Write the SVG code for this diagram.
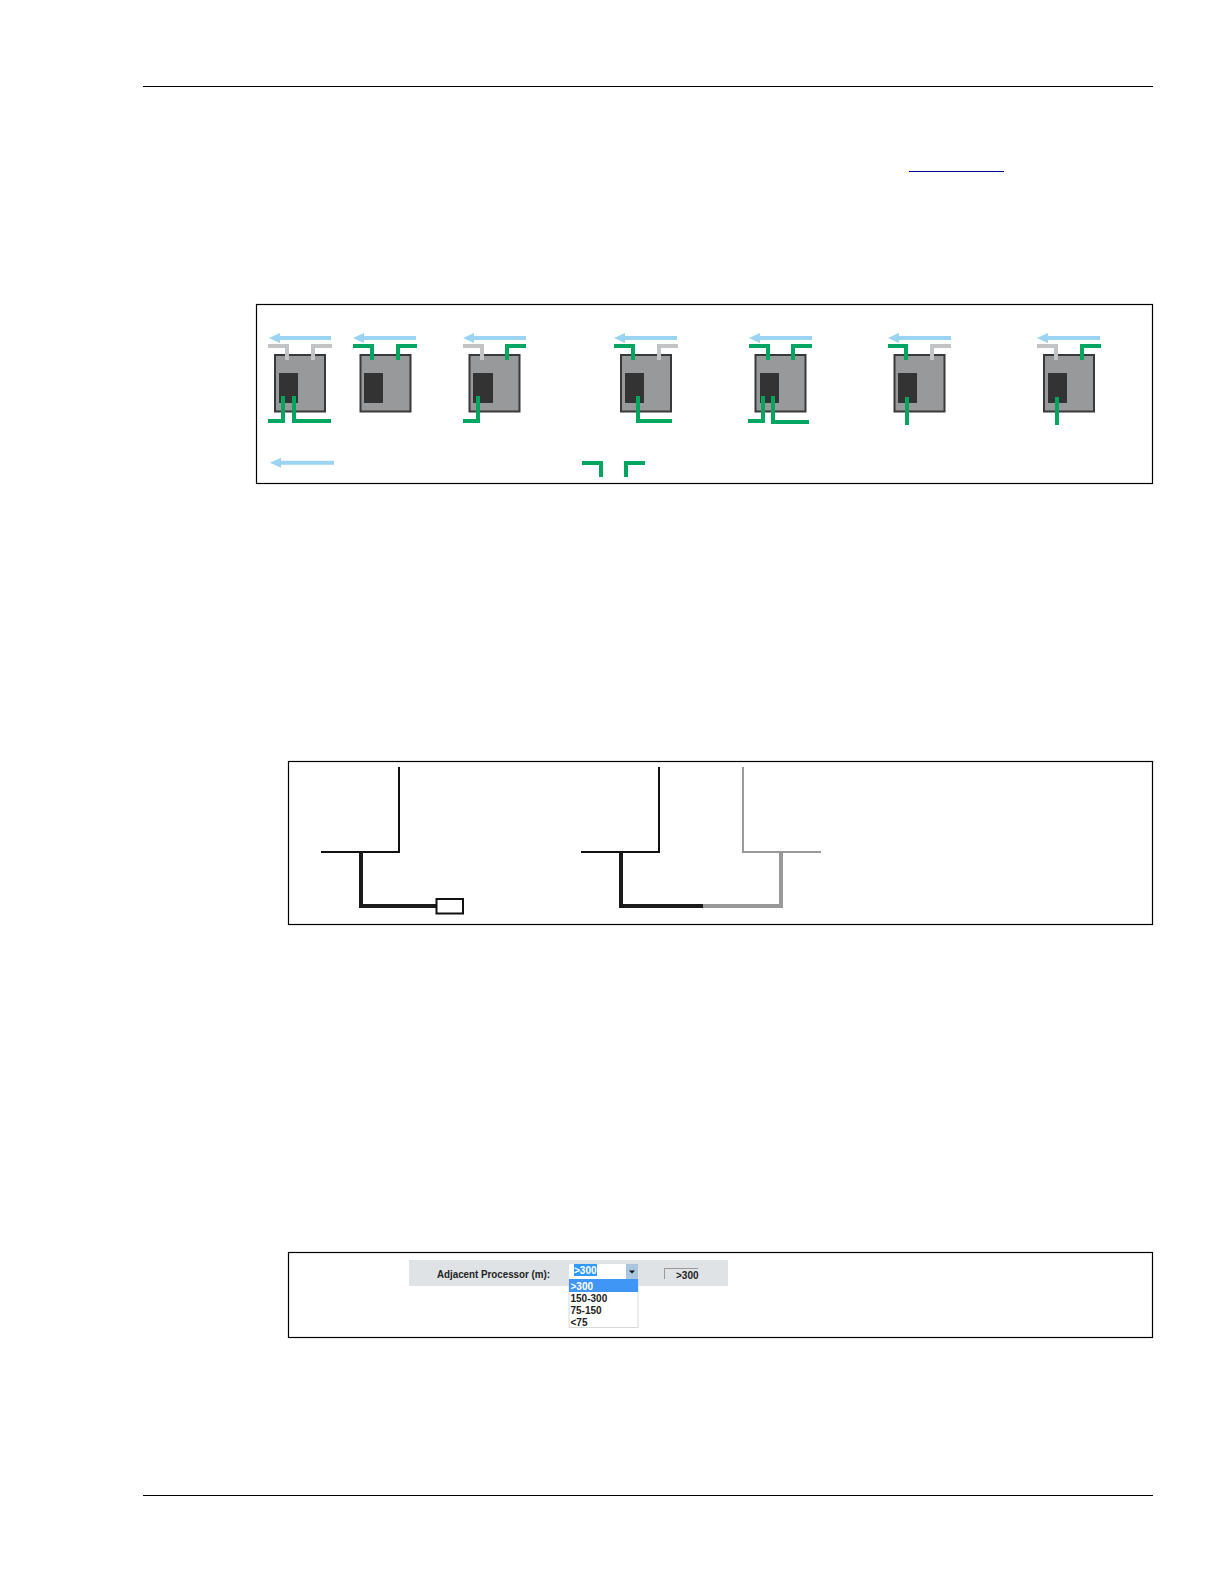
<svg xmlns="http://www.w3.org/2000/svg" width="1224" height="1584" viewBox="0 0 1224 1584">
<defs>
<marker id="ah" markerUnits="userSpaceOnUse" markerWidth="11" markerHeight="10" refX="0" refY="0" viewBox="0 -5 11 10" orient="auto"><path d="M0,-5 L11,0 L0,5z" fill="#9bd3f2"/></marker>
</defs>
<style>
.frame{fill:none;stroke:#000;stroke-width:1.2}
.rule{stroke:#000;stroke-width:1.2;fill:none}
.chip{fill:#97999b;stroke:#38393a;stroke-width:2}
.core{fill:#333334}
.bus{stroke:#9bd3f2;stroke-width:4;fill:none;marker-end:url(#ah)}
.g{fill:none;stroke:#00a560;stroke-width:4}
.y{fill:none;stroke:#c2c3c4;stroke-width:4}
.thin{fill:none;stroke:#111;stroke-width:2}
.thick{fill:none;stroke:#1a1a1a;stroke-width:4}
.thin2{fill:none;stroke:#999;stroke-width:2}
.thick2{fill:none;stroke:#999;stroke-width:4}
.t{font-family:"Liberation Sans",Arial,sans-serif;font-size:10px;font-weight:bold;fill:#222}
</style>
<path class="rule" d="M143,86.500H1153"/>
<path class="rule" d="M143,1495.500H1153"/>
<path d="M909,171.500H1004" fill="none" stroke="#000090" stroke-width="1.2"/>
<rect class="frame" x="256.500" y="304.500" width="896" height="179"/>
<rect class="frame" x="288.500" y="761.500" width="864" height="163"/>
<rect class="frame" x="288.500" y="1252.500" width="864" height="85"/>

<g id="node1"><rect class="chip" x="275" y="355" width="50" height="56.500"/><rect class="core" x="279" y="373" width="19" height="30"/></g>
<g id="node2"><rect class="chip" x="360.500" y="355" width="50" height="56.500"/><rect class="core" x="364" y="373" width="19" height="30"/></g>
<g id="node3"><rect class="chip" x="469.500" y="355" width="50" height="56.500"/><rect class="core" x="473" y="373" width="20" height="30"/></g>
<g id="node4"><rect class="chip" x="621" y="355" width="50" height="56.500"/><rect class="core" x="625" y="373" width="19" height="30"/></g>
<g id="node5"><rect class="chip" x="755.500" y="355" width="50" height="56.500"/><rect class="core" x="760" y="373" width="19" height="30"/></g>
<g id="node6"><rect class="chip" x="894.500" y="355" width="50" height="56.500"/><rect class="core" x="898" y="373" width="19" height="30"/></g>
<g id="node7"><rect class="chip" x="1044" y="355" width="50" height="56.500"/><rect class="core" x="1048" y="373" width="19" height="30"/></g>

<g id="connectors">
<path class="bus" d="M331,338H280"/>
<path class="bus" d="M416,338H364"/>
<path class="bus" d="M526,338H474"/>
<path class="bus" d="M677,338H625"/>
<path class="bus" d="M812,338H760"/>
<path class="bus" d="M951,338H899"/>
<path class="bus" d="M1100,338H1048"/>
<path class="bus" d="M334,462.700H281"/>

<path class="y" d="M268,346H287V360"/><path class="y" d="M313,360V346H332"/>
<path class="g" d="M268,421H283V396"/><path class="g" d="M294,396V421H331"/>

<path class="g" d="M353,346H372V360"/><path class="g" d="M398,360V346H417"/>

<path class="y" d="M463,346H482V360"/><path class="g" d="M507,360V346H526"/>
<path class="g" d="M463,421H478V396"/>

<path class="g" d="M614,346H633V360"/><path class="y" d="M659,360V346H678"/>
<path class="g" d="M638,396V421H672"/>

<path class="g" d="M749,346H768V360"/><path class="g" d="M793,360V346H812"/>
<path class="g" d="M748,421H763V396"/><path class="g" d="M773,396V422H809"/>

<path class="g" d="M888,346H906V360"/><path class="y" d="M932,360V346H951"/>
<path class="g" d="M907,397V425"/>

<path class="y" d="M1037,346H1056V360"/><path class="g" d="M1082,360V346H1101"/>
<path class="g" d="M1057,397V425"/>

<path class="g" d="M582,463H601V477"/><path class="g" d="M626,477V463H645"/>

<path class="thin" d="M321,852H399V767"/>
<path class="thick" d="M361,852V906H437"/>
<path class="thin" d="M581,852H659V767"/>
<path class="thick" d="M621,852V906H703"/>
<path class="thick2" d="M703,906H781V852"/>
<path class="thin2" d="M743,767V852H821"/>
</g>
<rect id="node8" x="436.500" y="899" width="26.500" height="14.500" fill="#fff" stroke="#111" stroke-width="2"/>

<g id="form">
<rect x="409" y="1260" width="319" height="26" fill="#dfe3e6"/>
<text class="t" x="437" y="1278" textLength="113" lengthAdjust="spacingAndGlyphs">Adjacent Processor (m):</text>
<rect x="569" y="1264" width="57" height="15" fill="#fff"/>
<rect x="574" y="1264" width="23" height="12" fill="#3399ff"/>
<text class="t" x="574" y="1274" style="fill:#fff">&gt;300</text>
<rect x="626" y="1264" width="12" height="15" fill="#a9c6de"/>
<path d="M629,1270.500h6l-3,3z" fill="#111"/>
<rect x="569" y="1279.500" width="69" height="48" fill="#fff" stroke="#d8dadc"/>
<rect x="569" y="1279" width="69" height="13" fill="#3f96f5"/>
<text class="t" x="570.500" y="1289.500" style="fill:#fff">&gt;300</text>
<text class="t" x="570.500" y="1302">150-300</text>
<text class="t" x="570.500" y="1314">75-150</text>
<text class="t" x="570.500" y="1326">&lt;75</text>
<path d="M664.500,1279V1268.500H698" fill="none" stroke="#999"/>
<text class="t" x="676" y="1278.500">&gt;300</text>
</g>
</svg>
